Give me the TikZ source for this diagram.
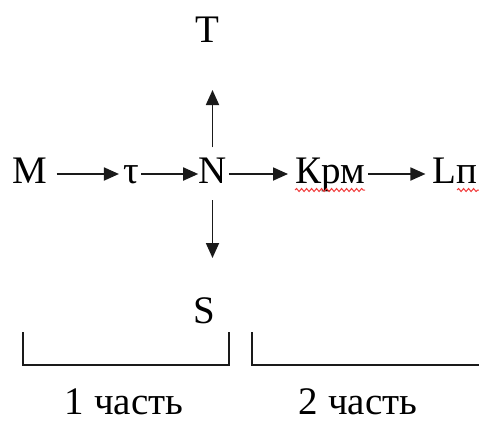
\documentclass[tikz,border=0pt]{standalone}
\usepackage{fontspec}
\setmainfont{Liberation Serif}
\usepackage{xcolor}
\usepackage{tikz}
\usetikzlibrary{
  arrows.meta,
  positioning,
  calc,
  decorations.pathmorphing
}
\definecolor{chLine}{HTML}{1A1A1A}
\definecolor{chSpell}{HTML}{F03C3C}

\begin{document}
\begin{tikzpicture}[x=1pt, y=-1pt,
  lbl/.style={inner sep=0pt, anchor=base, font=\fontsize{39}{47}\selectfont},
  arr/.style={draw=chLine, line width=1.8pt, -{Triangle[length=15pt, width=13pt]}},
  brace/.style={draw=chLine, line width=1.4pt},
  spell/.style={draw=chSpell, line width=1pt, decorate,
    decoration={snake, amplitude=1.5pt, segment length=5pt}}]
  \useasboundingbox (0,0) rectangle (479,421);
  % main row
  \foreach \x/\name/\txt in {30/M/M, 131/tau/τ, 212.5/N/N, 330/Krm/Крм, 455/Lp/Lп}{
    \node[lbl] (\name) at (\x,183) {\txt};
  }
  \node[lbl] (T) at (207,42) {T};
  \node[lbl] (S) at (204,323) {S};
  \coordinate (upTip) at (212.5,90);
  \coordinate (downTip) at (212.5,258);
  % arrows
  \draw[arr] ($(M.base east)+(9,-9)$) -- ($(tau.base west)+(-4,-9)$);
  \draw[arr] ($(tau.base east)+(2,-9)$) -- ($(N.base west)+(0,-9)$);
  \draw[arr] ($(N.base east)+(2,-9)$) -- ($(Krm.base west)+(-7,-9)$);
  \draw[arr] ($(Krm.base east)+(3,-9)$) -- ($(Lp.base west)+(-7,-9)$);
  \draw[arr] ($(N.north)+(0,-10)$) -- (upTip);
  \draw[arr] ($(N.south)+(0,17)$) -- (downTip);
  % spell-check marks
  \draw[spell] ($(Krm.base west)+(0,7)$) -- ($(Krm.base east)+(0,7)$);
  \draw[spell] (457,190) -- (479,190);
  % parts
  \draw[brace] (23,332) |- (229,365) -- (229,332);
  \draw[brace] (252,332) |- (479,365);
  \node[lbl] (part1) at (124,414) {1 часть};
  \node[lbl] (part2) at (358,414) {2 часть};
\end{tikzpicture}
\end{document}
